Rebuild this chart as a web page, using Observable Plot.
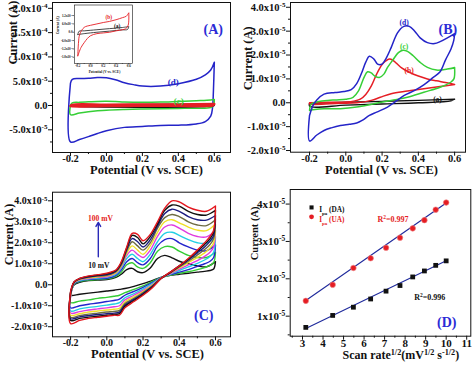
<!DOCTYPE html>
<html><head><meta charset="utf-8">
<script src="https://cdn.jsdelivr.net/npm/d3@7"></script>
<script src="https://cdn.jsdelivr.net/npm/@observablehq/plot@0.6"></script>
<style>
body{margin:0;background:#fff}
#root{position:relative;width:474px;height:366px;overflow:hidden;background:#fff}
#root svg{position:absolute;overflow:visible}
</style></head><body><div id="root"></div>
<script>
// ================= DATA (currents in units noted per panel) =================
// Panel A (units 1e-5 A)
const A_UNIT = 1e-5;
const A_D_FX = [-0.2, -0.19, -0.15, -0.1, -0.05, 0.0, 0.05, 0.1, 0.15, 0.2, 0.3, 0.4, 0.5, 0.55, 0.58, 0.6];
const A_D_FY = [4.6, 5.4, 5.55, 5.6, 5.75, 5.7, 5.3, 4.7, 4.3, 4.0, 4.0, 4.5, 5.4, 6.3, 7.3, 8.9];
const A_D_RX = [0.6, 0.595, 0.59, 0.58, 0.55, 0.5, 0.4, 0.3, 0.2, 0.1, 0.0, -0.05, -0.1, -0.15, -0.2];
const A_D_RY = [8.9, 3.0, -0.5, -2.2, -3.3, -3.8, -4.05, -4.1, -4.3, -4.5, -5.2, -5.75, -6.4, -7.0, -7.5];
const A_C_FX = [-0.2, -0.19, -0.15, -0.1, -0.05, 0.0, 0.05, 0.1, 0.2, 0.3, 0.4, 0.5, 0.58, 0.6];
const A_C_FY = [0.0, 0.55, 0.65, 0.75, 0.85, 0.88, 0.82, 0.72, 0.65, 0.7, 0.85, 1.0, 1.15, 1.25];
const A_C_RX = [0.6, 0.595, 0.58, 0.5, 0.4, 0.3, 0.2, 0.1, 0.0, -0.05, -0.1, -0.15, -0.2];
const A_C_RY = [1.25, 0.0, -0.4, -0.55, -0.6, -0.65, -0.7, -0.8, -0.95, -1.1, -1.3, -1.55, -1.9];
const A_B_FX = [-0.2, -0.19, 0.0, 0.2, 0.4, 0.6];
const A_B_FY = [-0.1, 0.15, 0.18, 0.2, 0.22, 0.3];
const A_B_RX = [0.6, 0.59, 0.4, 0.2, 0.0, -0.2];
const A_B_RY = [0.3, 0.0, -0.05, -0.08, -0.1, -0.15];
const A_A_FX = [-0.2, 0.6];
const A_A_FY = [0.05, 0.08];
const A_A_RX = [0.6, -0.2];
const A_A_RY = [0.0, -0.03];
const A_YTICKS = [-5, 0, 5, 10, 15, 20];
const A_YMINOR = [-7.5, -2.5, 2.5, 7.5, 12.5, 17.5];

// Inset of panel A (units 1e-6 A)
const IN_UNIT = 1e-6;
const IN_B_FX = [-0.2, -0.19, -0.17, -0.1, 0.0, 0.1, 0.2, 0.3, 0.4, 0.5, 0.56, 0.6];
const IN_B_FY = [-1.7, -0.8, -0.15, 0.35, 0.5, 0.6, 0.7, 0.78, 0.9, 1.05, 1.15, 1.4];
const IN_B_RX = [0.6, 0.59, 0.55, 0.5, 0.4, 0.3, 0.2, 0.1, 0.0, -0.05, -0.1, -0.15, -0.2];
const IN_B_RY = [1.4, 0.5, 0.25, 0.18, 0.1, 0.0, -0.05, -0.1, -0.25, -0.45, -0.75, -1.1, -1.7];
const IN_A_FX = [-0.2, -0.18, -0.1, 0.1, 0.3, 0.5, 0.6];
const IN_A_FY = [-0.17, 0.07, 0.1, 0.18, 0.26, 0.34, 0.41];
const IN_A_RX = [0.6, 0.58, 0.5, 0.3, 0.1, -0.1, -0.2];
const IN_A_RY = [0.41, 0.2, 0.17, 0.08, 0.0, -0.1, -0.17];
const IN_YTICKS = [1.2, 0.6, 0, -0.6, -1.2, -1.8];

// Panel B (units 1e-5 A)
const B_UNIT = 1e-5;
const B_D_FX = [-0.2, -0.18, -0.16, -0.12, -0.06, -0.01, 0.03, 0.06, 0.09, 0.11, 0.13, 0.155, 0.175, 0.2, 0.22, 0.25, 0.285, 0.32, 0.35, 0.38, 0.41, 0.45, 0.49, 0.52, 0.56, 0.6];
const B_D_FY = [-0.53, -0.1, 0.12, 0.36, 0.43, 0.47, 0.55, 0.8, 1.3, 1.7, 1.95, 1.83, 1.62, 1.62, 1.83, 2.31, 2.93, 3.2, 3.2, 3.0, 2.72, 2.52, 2.48, 2.56, 2.72, 2.9];
const B_D_RX = [0.6, 0.595, 0.58, 0.55, 0.52, 0.48, 0.43, 0.38, 0.32, 0.27, 0.23, 0.17, 0.13, 0.09, 0.06, 0.02, -0.03, -0.08, -0.12, -0.16, -0.2];
const B_D_RY = [2.9, 2.6, 2.25, 1.8, 1.3, 1.05, 0.75, 0.52, 0.3, 0.03, -0.18, -0.39, -0.53, -0.74, -0.85, -0.9, -0.95, -1.05, -1.16, -1.35, -1.6];
const B_C_FX = [-0.2, -0.19, -0.15, -0.1, -0.05, 0.0, 0.04, 0.07, 0.1, 0.12, 0.14, 0.16, 0.185, 0.21, 0.23, 0.26, 0.29, 0.315, 0.34, 0.37, 0.41, 0.45, 0.5, 0.56, 0.6];
const B_C_FY = [-0.32, -0.05, 0.05, 0.1, 0.12, 0.15, 0.23, 0.5, 1.05, 1.3, 1.25, 1.12, 1.06, 1.2, 1.48, 1.8, 2.1, 2.2, 2.15, 1.98, 1.69, 1.48, 1.37, 1.41, 1.48];
const B_C_RX = [0.6, 0.596, 0.578, 0.52, 0.43, 0.34, 0.25, 0.155, 0.06, -0.03, -0.12, -0.17, -0.2];
const B_C_RY = [1.48, 1.0, 0.86, 0.65, 0.44, 0.23, 0.1, -0.04, -0.18, -0.25, -0.25, -0.28, -0.32];
const B_B_FX = [-0.2, -0.1, 0.0, 0.05, 0.08, 0.11, 0.14, 0.17, 0.2, 0.22, 0.24, 0.26, 0.28, 0.31, 0.35, 0.4, 0.45, 0.5, 0.55, 0.6];
const B_B_FY = [0.0, 0.02, 0.03, 0.08, 0.15, 0.35, 0.7, 1.2, 1.6, 1.75, 1.83, 1.78, 1.65, 1.45, 1.28, 1.12, 1.0, 0.92, 0.85, 0.77];
const B_B_RX = [0.6, 0.52, 0.43, 0.34, 0.25, 0.19, 0.14, 0.06, -0.03, -0.2];
const B_B_RY = [0.77, 0.68, 0.59, 0.49, 0.38, 0.23, 0.1, 0.0, -0.02, -0.05];
const B_A_FX = [-0.2, 0.0, 0.2, 0.4, 0.6];
const B_A_FY = [-0.02, 0.02, 0.06, 0.1, 0.15];
const B_A_RX = [0.6, 0.58, 0.4, 0.2, 0.0, -0.2];
const B_A_RY = [0.15, 0.08, 0.0, -0.05, -0.1, -0.15];
const BC_YTICKS = [-2, -1, 0, 1, 2, 3, 4];
const BC_YMINOR = [-1.5, -0.5, 0.5, 1.5, 2.5, 3.5];

// Panel C (units 1e-5 A): scan rates 10..100 mV/s
const C_UNIT = 1e-5;
const C_RATES = ["10", "20", "30", "40", "50", "60", "70", "80", "90", "100"];
const C_FX = [-0.2, -0.18, -0.15, -0.1, -0.05, 0.0, 0.05, 0.08, 0.11, 0.14, 0.17, 0.2, 0.24, 0.28, 0.32, 0.36, 0.4, 0.45, 0.5, 0.55, 0.6];
const C_RX = [0.6, 0.59, 0.57, 0.54, 0.5, 0.45, 0.4, 0.35, 0.3, 0.25, 0.2, 0.15, 0.1, 0.07, 0.04, 0.0, -0.05, -0.1, -0.15, -0.2];
const C_F10  = [-0.35, 0.0, 0.12, 0.2, 0.22, 0.25, 0.35, 0.5, 0.72, 0.78, 0.62, 0.58, 0.8, 1.25, 1.4, 1.28, 1.12, 1.0, 0.9, 0.85, 1.1];
const C_F20  = [-0.45, 0.02, 0.15, 0.22, 0.25, 0.28, 0.4, 0.6, 0.95, 1.05, 0.85, 0.78, 1.05, 1.6, 1.82, 1.8, 1.6, 1.4, 1.3, 1.3, 1.55];
const C_F30  = [-0.5, 0.05, 0.18, 0.25, 0.28, 0.31, 0.45, 0.7, 1.1, 1.25, 1.05, 0.95, 1.25, 1.85, 2.15, 2.2, 2.0, 1.8, 1.65, 1.62, 1.9];
const C_F40  = [-0.55, 0.08, 0.2, 0.28, 0.32, 0.35, 0.5, 0.8, 1.25, 1.45, 1.25, 1.1, 1.45, 2.05, 2.45, 2.5, 2.35, 2.15, 2.0, 1.98, 2.3];
const C_F50  = [-0.55, 0.1, 0.23, 0.3, 0.35, 0.38, 0.55, 0.85, 1.4, 1.65, 1.45, 1.3, 1.65, 2.3, 2.75, 2.85, 2.7, 2.45, 2.3, 2.28, 2.6];
const C_F60  = [-0.5, 0.1, 0.25, 0.33, 0.38, 0.42, 0.58, 0.9, 1.5, 1.85, 1.65, 1.45, 1.85, 2.5, 3.0, 3.1, 2.95, 2.75, 2.6, 2.58, 2.9];
const C_F70  = [-0.45, 0.12, 0.27, 0.36, 0.41, 0.45, 0.62, 0.95, 1.6, 2.05, 1.85, 1.65, 2.0, 2.7, 3.2, 3.35, 3.25, 3.0, 2.85, 2.82, 3.1];
const C_F80  = [-0.4, 0.13, 0.28, 0.38, 0.44, 0.48, 0.65, 1.0, 1.7, 2.2, 2.05, 1.8, 2.15, 2.8, 3.4, 3.6, 3.5, 3.25, 3.1, 3.08, 3.3];
const C_F90  = [-0.35, 0.14, 0.3, 0.4, 0.46, 0.52, 0.68, 1.05, 1.75, 2.35, 2.25, 1.95, 2.3, 2.9, 3.55, 3.8, 3.75, 3.5, 3.35, 3.32, 3.55];
const C_F100 = [-0.3, 0.15, 0.3, 0.42, 0.48, 0.55, 0.7, 1.1, 1.8, 2.45, 2.4, 2.1, 2.4, 3.0, 3.65, 4.0, 3.95, 3.7, 3.55, 3.5, 3.75];
const C_R10  = [1.1, 0.75, 0.68, 0.64, 0.6, 0.55, 0.5, 0.45, 0.35, 0.2, 0.05, -0.08, -0.18, -0.22, -0.26, -0.3, -0.35, -0.4, -0.45, -0.5];
const C_R20  = [1.55, 1.05, 0.92, 0.82, 0.72, 0.62, 0.55, 0.45, 0.35, 0.15, -0.05, -0.22, -0.38, -0.5, -0.55, -0.6, -0.65, -0.72, -0.78, -0.85];
const C_R30  = [1.9, 1.3, 1.12, 1.0, 0.88, 0.72, 0.6, 0.48, 0.35, 0.1, -0.12, -0.32, -0.5, -0.68, -0.75, -0.8, -0.87, -0.93, -1.0, -1.1];
const C_R40  = [2.3, 1.55, 1.35, 1.18, 1.02, 0.85, 0.68, 0.5, 0.34, 0.05, -0.2, -0.42, -0.62, -0.85, -0.92, -0.97, -1.03, -1.08, -1.15, -1.25];
const C_R50  = [2.6, 1.8, 1.55, 1.35, 1.15, 0.95, 0.74, 0.52, 0.33, 0.0, -0.27, -0.5, -0.72, -1.0, -1.05, -1.1, -1.15, -1.2, -1.28, -1.35];
const C_R60  = [2.9, 2.0, 1.75, 1.52, 1.3, 1.05, 0.8, 0.55, 0.32, -0.03, -0.32, -0.58, -0.82, -1.12, -1.17, -1.2, -1.25, -1.3, -1.38, -1.45];
const C_R70  = [3.1, 2.2, 1.92, 1.68, 1.42, 1.12, 0.85, 0.57, 0.32, -0.06, -0.37, -0.65, -0.9, -1.22, -1.27, -1.3, -1.35, -1.4, -1.47, -1.55];
const C_R80  = [3.3, 2.35, 2.08, 1.8, 1.52, 1.18, 0.88, 0.58, 0.31, -0.09, -0.42, -0.7, -0.97, -1.3, -1.35, -1.38, -1.42, -1.47, -1.53, -1.62];
const C_R90  = [3.55, 2.5, 2.2, 1.92, 1.6, 1.22, 0.9, 0.59, 0.3, -0.12, -0.46, -0.75, -1.03, -1.38, -1.42, -1.45, -1.5, -1.54, -1.6, -1.7];
const C_R100 = [3.75, 2.6, 2.3, 2.0, 1.65, 1.25, 0.9, 0.6, 0.3, -0.15, -0.5, -0.8, -1.1, -1.45, -1.45, -1.5, -1.55, -1.6, -1.7, -1.85];
const C_COLORS = ["#111111", "#35cc35", "#2424cc", "#22cfe4", "#e03ce0", "#f0e028", "#6e6c42", "#1c1c80", "#111111", "#e3161e"];

// Panel D (units 1e-5 A)
const D_X  = [3.16, 4.47, 5.48, 6.32, 7.07, 7.75, 8.37, 8.94, 9.49, 10.0];
const D_DA = [0.70, 1.02, 1.24, 1.46, 1.67, 1.82, 2.05, 2.21, 2.36, 2.48];
const D_UA = [1.41, 1.84, 2.29, 2.55, 2.83, 3.10, 3.35, 3.57, 3.85, 4.04];
const D_FIT_X  = [3.16, 10.0];
const D_FIT_DA = [0.67, 2.48];
const D_FIT_UA = [1.42, 4.03];
const D_YTICKS = [1, 2, 3, 4];
const D_XTICKS = [3, 4, 5, 6, 7, 8, 9, 10, 11];

const X_TICKS = [-0.2, 0, 0.2, 0.4, 0.6];
const X_MINOR = [-0.1, 0.1, 0.3, 0.5];

// ================= RENDERING =================
const FONT = "'Liberation Serif','Times New Roman',serif";
const BLUE = "#2424c8", GREEN = "#36cf36", RED = "#e51d24", LBLUE = "#2b2bd6", NAVY = "#1f2a9c";
const root = document.getElementById("root");

function cv(fx, fy, rx, ry) {
  const pts = fx.map((x, i) => ({x, y: fy[i]}));
  rx.forEach((x, i) => pts.push({x, y: ry[i]}));
  pts.push(pts[0]);
  return pts;
}
function sci(v, dec) {
  if (Math.abs(v) < 1e-15) return dec ? (0).toFixed(dec) : "0";
  const e = Math.floor(Math.log10(Math.abs(v)) + 1e-9);
  const m = v / Math.pow(10, e);
  return m.toFixed(dec) + "x10^{" + e + "}";
}
function addSpan(t, str, kind) {
  const ts = document.createElementNS("http://www.w3.org/2000/svg", "tspan");
  ts.textContent = str;
  if (kind) {
    ts.style.fontSize = "0.68em";
    ts.setAttribute("baseline-shift", kind === "^" ? "super" : "sub");
  }
  t.appendChild(ts);
}
function richify(svg) {
  svg.querySelectorAll("text").forEach(t => {
    if (t.children.length) return;
    const s = t.textContent;
    if (!/[\^_]\{/.test(s)) return;
    t.textContent = "";
    const re = /([\^_])\{([^}]*)\}/g;
    let last = 0, m;
    while ((m = re.exec(s))) {
      if (m.index > last) addSpan(t, s.slice(last, m.index));
      addSpan(t, m[2], m[1]);
      last = re.lastIndex;
    }
    if (last < s.length) addSpan(t, s.slice(last));
  });
}
function fit(svg, name, len) {
  if (!len) return;
  svg.querySelectorAll(`g[aria-label="${name}"] text`).forEach(t => {
    t.setAttribute("textLength", len);
    t.setAttribute("lengthAdjust", "spacingAndGlyphs");
  });
}
function panel(o) {
  const marks = [
    ...o.marks,
    Plot.frame({stroke: "#111", strokeWidth: o.fw || 1}),
    Plot.axisX(o.xMajor, {tickSize: o.ts, tickPadding: o.xpad, fontSize: o.tfs, tickFormat: o.xFmt, label: null, strokeWidth: o.fw || 1}),
    Plot.axisX(o.xMinor, {tickSize: o.ts / 2, tickFormat: () => "", label: null, strokeWidth: o.fw || 1}),
    Plot.axisY(o.yMajor, {tickSize: o.ts, tickPadding: o.ypad, fontSize: o.tfs, tickFormat: o.yFmt, label: null, strokeWidth: o.fw || 1}),
    Plot.axisY(o.yMinor, {tickSize: o.ts / 2, tickFormat: () => "", label: null, strokeWidth: o.fw || 1}),
    Plot.text([o.xLabel], {text: d => d, frameAnchor: "bottom", dx: o.xlDx, dy: o.xlDy, fontSize: o.xlfs, ariaLabel: "xlabel"}),
    Plot.text([o.yLabel], {text: d => d, frameAnchor: "left", rotate: -90, dx: o.ylDx, dy: o.ylDy, fontSize: o.ylfs, ariaLabel: "ylabel"}),
    ...(o.notes || [])
  ];
  const svg = Plot.plot({
    width: o.w, height: o.h,
    marginLeft: o.ml, marginRight: o.mr, marginTop: o.mt, marginBottom: o.mb,
    x: {domain: o.xd, label: null},
    y: {domain: o.yd, label: null},
    style: {fontFamily: FONT, fontWeight: "bold", background: "none", overflow: "visible", color: "#111"},
    marks
  });
  richify(svg);
  fit(svg, "xlabel", o.xlLen);
  fit(svg, "ylabel", o.ylLen);
  svg.style.left = o.left + "px";
  svg.style.top = o.top + "px";
  root.appendChild(svg);
}
const line = (pts, stroke, sw) => Plot.line(pts, {x: "x", y: "y", stroke, strokeWidth: sw, curve: "catmull-rom"});
const note = (txt, fill, fs, dx, dy, extra) => Plot.text([txt], {text: d => d, frameAnchor: "top-left", dx, dy, fill, fontSize: fs, ...(extra || {})});
const xFmt = v => v.toFixed(1);

// ---- Panel A ----
panel({
  left: 0, top: 0, w: 237, h: 183, ml: 52, mr: 7, mt: 2, mb: 31,
  xd: [-0.3, 0.69], yd: [-9.67, 21.2],
  xMajor: X_TICKS, xMinor: X_MINOR, yMajor: A_YTICKS, yMinor: A_YMINOR,
  xFmt, yFmt: v => sci(v * A_UNIT, 1), ts: 4, xpad: -2, ypad: 1, tfs: 10.5,
  xLabel: "Potential (V vs. SCE)", xlDx: 5, xlDy: 21.5, xlfs: 12.5, xlLen: 98,
  yLabel: "Current (A)", ylDx: -40, ylDy: -13, ylfs: 12.5, ylLen: 65,
  marks: [
    line(cv(A_D_FX, A_D_FY, A_D_RX, A_D_RY), BLUE, 1.5),
    line(cv(A_C_FX, A_C_FY, A_C_RX, A_C_RY), GREEN, 1.5),
    line(cv(A_A_FX, A_A_FY, A_A_RX, A_A_RY), "#111", 1.2),
    line(cv(A_B_FX, A_B_FY, A_B_RX, A_B_RY), RED, 2.4)
  ],
  notes: [
    note("(A)", LBLUE, 14, 160.7, 22, {textAnchor: "middle"}),
    note("(d)", BLUE, 9, 120.7, 75.7, {textAnchor: "middle"}),
    note("(c)", GREEN, 9, 126.3, 94.7, {textAnchor: "middle"})
  ]
});

// ---- Inset of A ----
panel({
  left: 56, top: 0, w: 80, h: 75, ml: 18, mr: 4, mt: 4.5, mb: 12,
  xd: [-0.252, 0.658], yd: [-2.25, 1.96],
  xMajor: X_TICKS, xMinor: X_MINOR, yMajor: IN_YTICKS, yMinor: [],
  xFmt, yFmt: v => sci(v * IN_UNIT, 1), ts: 1.5, xpad: 0, ypad: 0.5, tfs: 3.2, fw: 0.6,
  xLabel: "Potential (V vs. SCE)", xlDx: 1, xlDy: 9, xlfs: 3.5, xlLen: 34,
  yLabel: "Current (A)", ylDx: -17, ylDy: 0, ylfs: 3.5, ylLen: 0,
  marks: [
    Plot.frame({fill: "white"}),
    line(cv(IN_A_FX, IN_A_FY, IN_A_RX, IN_A_RY), "#333", 0.9),
    line(cv(IN_B_FX, IN_B_FY, IN_B_RX, IN_B_RY), RED, 0.9)
  ],
  notes: [
    note("(b)", RED, 5.5, 34.3, 10.5, {textAnchor: "middle"}),
    note("(a)", "#111", 5.5, 42.7, 19.5, {textAnchor: "middle"})
  ]
});

// ---- Panel B ----
panel({
  left: 237, top: 0, w: 237, h: 183, ml: 53, mr: 9, mt: 2, mb: 31.3,
  xd: [-0.305, 0.66], yd: [-2.07, 4.2],
  xMajor: X_TICKS, xMinor: X_MINOR, yMajor: BC_YTICKS, yMinor: BC_YMINOR,
  xFmt, yFmt: v => sci(v * B_UNIT, 1), ts: 4, xpad: -2, ypad: 1, tfs: 10.5,
  xLabel: "Potential (V vs. SCE)", xlDx: 3.5, xlDy: 22, xlfs: 12.5, xlLen: 98,
  yLabel: "Current (A)", ylDx: -43, ylDy: 13, ylfs: 12.5, ylLen: 62,
  marks: [
    line(cv(B_A_FX, B_A_FY, B_A_RX, B_A_RY), "#111", 1.4),
    line(cv(B_B_FX, B_B_FY, B_B_RX, B_B_RY), RED, 1.5),
    line(cv(B_C_FX, B_C_FY, B_C_RX, B_C_RY), GREEN, 1.5),
    line(cv(B_D_FX, B_D_FY, B_D_RX, B_D_RY), BLUE, 1.5)
  ],
  notes: [
    note("(a)", "#111", 7.5, 147, 93.7, {textAnchor: "middle"}),
    note("(b)", RED, 7.5, 118.7, 64.7, {textAnchor: "middle"}),
    note("(c)", GREEN, 7.5, 113.7, 41.3, {textAnchor: "middle"}),
    note("(d)", BLUE, 7.5, 113.7, 17.3, {textAnchor: "middle"}),
    note("(B)", LBLUE, 14, 157.3, 22, {textAnchor: "middle"})
  ]
});

// ---- Panel C ----
const C_F = [C_F10, C_F20, C_F30, C_F40, C_F50, C_F60, C_F70, C_F80, C_F90, C_F100];
const C_R = [C_R10, C_R20, C_R30, C_R40, C_R50, C_R60, C_R70, C_R80, C_R90, C_R100];
panel({
  left: 0, top: 183, w: 237, h: 183, ml: 52, mr: 7, mt: 8.7, mb: 29.7,
  xd: [-0.3, 0.683], yd: [-2.48, 4.41],
  xMajor: X_TICKS, xMinor: X_MINOR, yMajor: BC_YTICKS, yMinor: BC_YMINOR,
  xFmt, yFmt: v => sci(v * C_UNIT, 1), ts: 4, xpad: -2.2, ypad: 1, tfs: 10,
  xLabel: "Potential (V vs. SCE)", xlDx: 6, xlDy: 21.2, xlfs: 12.5, xlLen: 100,
  yLabel: "Current (A)", ylDx: -43.7, ylDy: 0.7, ylfs: 12, ylLen: 57,
  marks: C_RATES.map((r, k) => line(cv(C_FX, C_F[k], C_RX, C_R[k]), C_COLORS[k], 1.4)),
  notes: [
    Plot.arrow([0], {x1: -0.047, x2: -0.047, y1: 1.33, y2: 2.97, stroke: "#2a2ab8", strokeWidth: 1.4, headLength: 5}),
    note(C_RATES[9] + " mV", RED, 7.5, 48, 23, {textAnchor: "middle"}),
    note(C_RATES[0] + " mV", "#111", 7.5, 46.3, 70.3, {textAnchor: "middle"}),
    note("(C)", LBLUE, 14, 151.3, 118, {textAnchor: "middle"})
  ]
});

// ---- Panel D ----
const ptsDA = D_X.map((x, i) => ({x, y: D_DA[i]}));
const ptsUA = D_X.map((x, i) => ({x, y: D_UA[i]}));
const fitDA = D_FIT_X.map((x, i) => ({x, y: D_FIT_DA[i]}));
const fitUA = D_FIT_X.map((x, i) => ({x, y: D_FIT_UA[i]}));
panel({
  left: 237, top: 183, w: 237, h: 183, ml: 52.7, mr: 3.7, mt: 6, mb: 30.3,
  xd: [2.4, 11.2], yd: [0.464, 4.39],
  xMajor: D_XTICKS, xMinor: [2.5, 3.5, 4.5, 5.5, 6.5, 7.5, 8.5, 9.5, 10.5], yMajor: D_YTICKS, yMinor: [0.5, 1.5, 2.5, 3.5],
  xFmt: v => String(v), yFmt: v => sci(v * 1e-5, 0), ts: 4, xpad: -1.5, ypad: 1, tfs: 11,
  xLabel: "Scan rate^{1/2}(mV^{1/2} s^{-1/2})", xlDx: 20.3, xlDy: 23, xlfs: 12, xlLen: 133,
  yLabel: "Current (A)", ylDx: -36, ylDy: -2.6, ylfs: 10.5, ylLen: 43,
  marks: [
    Plot.line(fitUA, {x: "x", y: "y", stroke: NAVY, strokeWidth: 1.1}),
    Plot.line(fitDA, {x: "x", y: "y", stroke: NAVY, strokeWidth: 1.1}),
    Plot.dot(ptsDA, {x: "x", y: "y", symbol: "square", fill: "#111", r: 2.7}),
    Plot.dot(ptsUA, {x: "x", y: "y", symbol: "circle", fill: RED, stroke: "#f08a8a", strokeWidth: 0.6, r: 2.8})
  ],
  notes: [
    Plot.dot([0], {x: 3.44, y: 3.91, symbol: "square", fill: "#111", r: 2.3}),
    Plot.dot([0], {x: 3.44, y: 3.66, symbol: "circle", fill: RED, r: 2.4}),
    note("I_{pa} (DA)", "#111", 7.3, 29, 17.5, {textAnchor: "start"}),
    note("I_{pa} (UA)", RED, 7.3, 29, 27.5, {textAnchor: "start"}),
    note("R^{2}=0.997", RED, 8, 87.3, 27.3, {textAnchor: "start"}),
    note("R^{2}=0.996", "#111", 8, 124, 105, {textAnchor: "start"}),
    note("(D)", LBLUE, 14, 156.6, 127.3, {textAnchor: "middle"})
  ]
});
</script>
</body></html>
